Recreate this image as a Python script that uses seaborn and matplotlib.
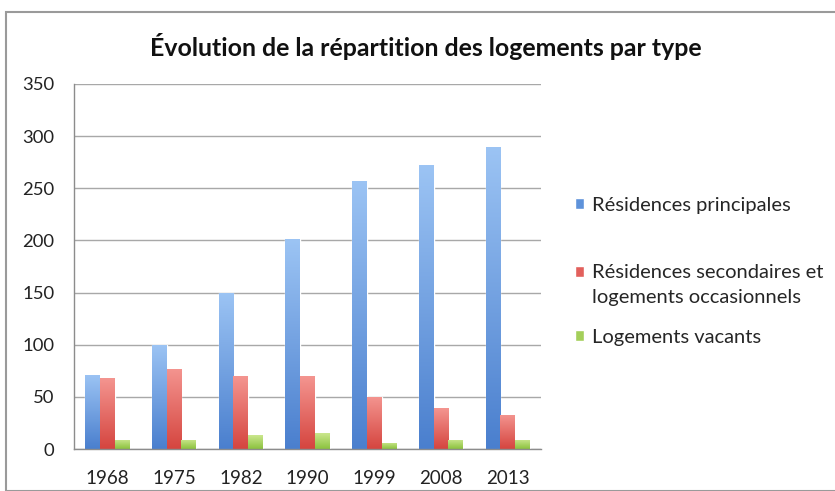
import matplotlib
matplotlib.use("Agg")
import matplotlib.pyplot as plt
import seaborn as sns
import pandas as pd
import numpy as np
from matplotlib.patches import Rectangle
from matplotlib.colors import LinearSegmentedColormap, to_rgb

years = ["1968", "1975", "1982", "1990", "1999", "2008", "2013"]
principales = [71, 100, 150, 201, 257, 272, 290]
secondaires = [68, 77, 70, 70, 50, 39, 33]
vacants = [9, 9, 13, 15, 6, 9, 9]
series = ["Résidences principales",
          "Résidences secondaires et logements occasionnels",
          "Logements vacants"]
legend_lines = [["Résidences principales"],
                ["Résidences secondaires et", "logements occasionnels"],
                ["Logements vacants"]]
colors = ["#5E92DA", "#E2605C", "#A4CF5A"]
tops = ["#9CC4F4", "#F49590", "#CBE78E"]
bottoms = ["#4A7FCE", "#D5453F", "#8BC23E"]

df = pd.DataFrame({
    "year": years * 3,
    "value": principales + secondaires + vacants,
    "type": [series[0]] * 7 + [series[1]] * 7 + [series[2]] * 7,
})

sns.set_style("white")
plt.rcParams["font.family"] = ["Lato", "DejaVu Sans"]

fig = plt.figure(figsize=(8.35, 4.91), dpi=100)
ax = fig.add_axes([74/835, 1-449/491, (541-74)/835, (449-84)/491])

sns.barplot(data=df, x="year", y="value", hue="type", palette=colors,
            width=0.66, ax=ax, saturation=1, legend=True)

ax.set_ylim(0, 350)
ax.set_yticks(range(0, 351, 50))
ax.set_xlim(-0.5, 6.5)

# vertical gradient fill on each bar
grad = np.linspace(1, 0, 256).reshape(-1, 1)
bars = [p for p in ax.patches if p.get_height() > 0]
for i, p in enumerate(bars):
    k = i // len(years)
    cmap = LinearSegmentedColormap.from_list("g", [to_rgb(bottoms[k]), to_rgb(tops[k])])
    x0, y0 = p.get_x(), p.get_y()
    w, hgt = p.get_width(), p.get_height()
    im = ax.imshow(grad, cmap=cmap, aspect="auto",
                   extent=(x0, x0 + w, y0, y0 + hgt), zorder=p.get_zorder() + 0.1,
                   interpolation="bilinear", vmin=0, vmax=1)
    im.set_clip_path(p)
ax.set_xlim(-0.5, 6.5)
ax.set_ylim(0, 350)

ax.yaxis.grid(True, color="#a8a8a8", linewidth=1)
ax.set_axisbelow(True)
ax.set_xlabel("")
ax.set_ylabel("")
for s in ["top", "right"]:
    ax.spines[s].set_visible(False)
for s in ["left", "bottom"]:
    ax.spines[s].set_color("#8c8c8c")
    ax.spines[s].set_linewidth(1)
ax.tick_params(axis="y", length=9, color="#a0a0a0", labelsize=13.3, labelcolor="#222222", pad=5)
ax.tick_params(axis="x", length=0, labelsize=13.5, labelcolor="#222222", pad=15)
ax.set_xticks([i + 0.5 for i in range(-1, 7)], minor=True)
ax.tick_params(axis="x", which="minor", length=5, color="#8c8c8c", direction="out")

h, l = ax.get_legend_handles_labels()
ax.get_legend().remove()

# one legend per entry, placed like the original (marker on first line)
entry_y = [205, 273, 337]
legs = []
for k in range(3):
    lg = fig.legend([h[k]], [legend_lines[k][0]], loc="center left",
                    bbox_to_anchor=(575/835, 1 - entry_y[k]/491),
                    frameon=False, fontsize=14.5, handlelength=0.45, handleheight=0.45,
                    handletextpad=0.4, borderaxespad=0, borderpad=0)
    legs.append(lg)

fig.canvas.draw()
renderer = fig.canvas.get_renderer()
t0 = legs[1].get_texts()[0]
bb = t0.get_window_extent(renderer)
inv = fig.transFigure.inverted()
x_text = inv.transform((bb.x0, 0))[0]
fig.text(x_text, 1 - 297/491, legend_lines[1][1], fontsize=14.5,
         ha="left", va="center", color=t0.get_color())

fig.suptitle("Évolution de la répartition des logements par type",
             x=426/835, y=1-46/491, va="center", fontsize=17.9, fontweight="bold",
             color="#111111")

fig.patches.append(Rectangle((6/835, 0), 1, 1-12/491, transform=fig.transFigure,
                             fill=False, edgecolor="#9a9a9a", linewidth=1.5))

fig.savefig("out.png", dpi=100)
